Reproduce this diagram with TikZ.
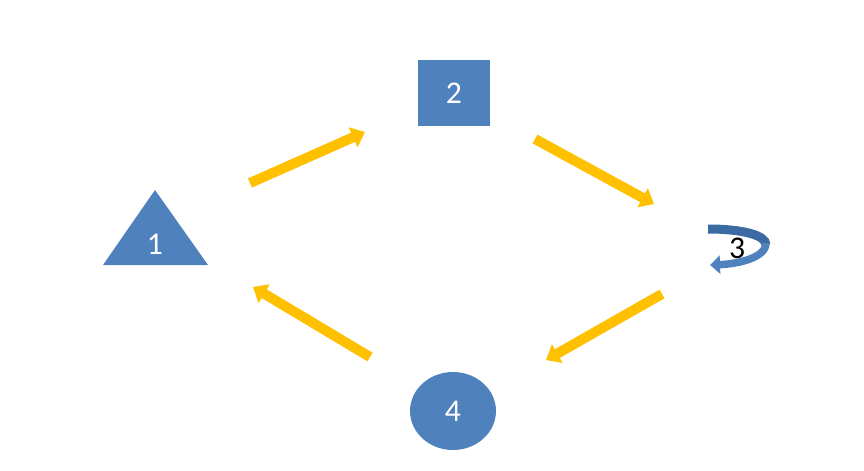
\documentclass[tikz,border=0pt]{standalone}
\usepackage{fontspec}
\setmainfont{Carlito}
\usetikzlibrary{arrows.meta, shapes.geometric, calc}
\definecolor{shapeblue}{HTML}{4F81BD}
\definecolor{darkblue}{HTML}{3C6AA3}
\definecolor{flowyellow}{HTML}{FFC000}
\tikzset{
  num/.style   ={text=white, font=\fontsize{18}{20}\selectfont, inner sep=0pt},
  box/.style   ={rectangle, fill=shapeblue, minimum width=1.44cm, minimum height=1.34cm, num},
  blob/.style  ={ellipse, fill=shapeblue, minimum width=1.72cm, minimum height=1.56cm, num},
  flow/.style  ={-{Triangle[length=0.26cm, width=0.42cm]}, draw=flowyellow, line width=0.2cm},
  spin/.style  ={draw=shapeblue, line width=0.15cm},
}
\begin{document}
\begin{tikzpicture}[x=0.02cm, y=-0.02cm]
\useasboundingbox (0,0) rectangle (864,470);

% ---- shapes ----
\fill[shapeblue] (103,265) -- (155,190) -- (208,265) -- cycle;
\node[num] (tri) at (155,244) {1};
\node[box] (sq) at (454,93) {2};
\node[blob] (circ) at (453,411) {4};
\node[font=\fontsize{18}{20}\selectfont, inner sep=0pt] (rot) at (737,248) {3};

% ---- rotation arrow round 3 ----
\draw[spin, draw=darkblue, line width=0.18cm] ([shift={(-29,-19)}]rot.center) .. controls ([shift={(5,-19)}]rot.center) and ([shift={(29,-13)}]rot.center) .. ([shift={(29,-3)}]rot.center);
\draw[spin, -{Triangle[length=0.2cm, width=0.36cm]}] ([shift={(29,-5)}]rot.center) .. controls ([shift={(29,10)}]rot.center) and ([shift={(0,16)}]rot.center) .. ([shift={(-27,17)}]rot.center);

% ---- flow arrows ----
\coordinate (a1s) at (250,183); \coordinate (a1e) at (365,132);
\coordinate (a2s) at (535,139); \coordinate (a2e) at (654,204);
\coordinate (a3s) at (662,294); \coordinate (a3e) at (546,360);
\coordinate (a4s) at (370,357); \coordinate (a4e) at (253,287);
\draw[flow] (a1s) -- (a1e);
\draw[flow] (a2s) -- (a2e);
\draw[flow] (a3s) -- (a3e);
\draw[flow] (a4s) -- (a4e);

\end{tikzpicture}
\end{document}
